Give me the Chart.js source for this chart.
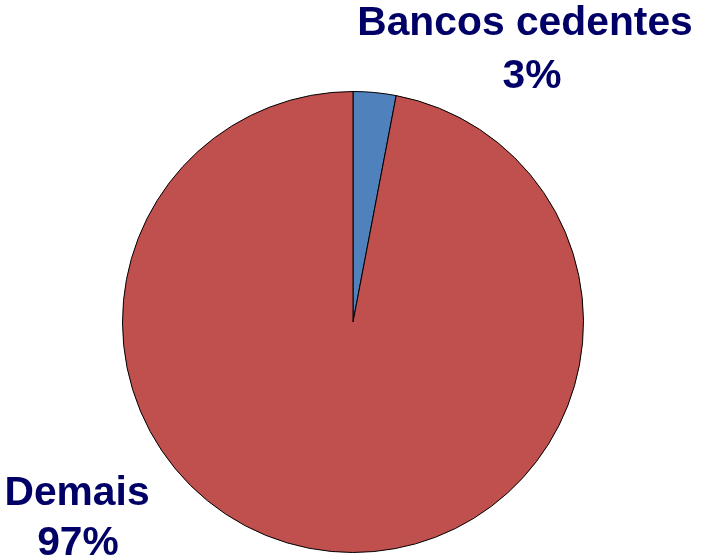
<!DOCTYPE html>
<html>
<head>
<meta charset="utf-8">
<script src="https://cdn.jsdelivr.net/npm/chart.js@4/dist/chart.umd.min.js"></script>
<style>
body { margin: 0; background: #fff; }
</style>
</head>
<body>
<canvas id="piechart" width="702" height="560"></canvas>
<script>
var categories = ['Bancos cedentes', 'Demais'];
var shares = [3, 97];
var shareLabels = ['3%', '97%'];
var sliceColors = ['#4F81BD', '#C0504D'];

// labels sit outside the pie
var labelPlugin = {
	id: 'outsideLabels',
	afterDraw: function(chart) {
		var ctx = chart.ctx;
		var spots = [
			{ x1: 525, y1: 35, x2: 532, y2: 88 },
			{ x1: 77, y1: 505, x2: 78, y2: 555 }
		];
		ctx.save();
		ctx.fillStyle = '#000066';
		ctx.font = 'bold 40px "Liberation Sans", Arial, sans-serif';
		ctx.textAlign = 'center';
		ctx.textBaseline = 'alphabetic';
		for (var i = 0; i < categories.length; i++) {
			var s = spots[i];
			ctx.save();
			ctx.translate(s.x1, s.y1);
			ctx.scale(1.02, 1);
			ctx.fillText(categories[i], 0, 0);
			ctx.restore();
			ctx.save();
			ctx.translate(s.x2, s.y2);
			ctx.scale(1.02, 1);
			ctx.fillText(shareLabels[i], 0, 0);
			ctx.restore();
		}
		ctx.restore();
	}
};

var pie = new Chart(document.getElementById('piechart'), {
	type: 'pie',
	data: {
		labels: categories,
		datasets: [{
			data: shares,
			backgroundColor: sliceColors,
			borderColor: '#000000',
			borderWidth: 1
		}]
	},
	options: {
		responsive: false,
		animation: false,
		layout: { padding: { top: 91, bottom: 7, left: 122, right: 118 } },
		plugins: {
			legend: { display: false },
			tooltip: { enabled: false }
		}
	},
	plugins: [labelPlugin]
});
</script>
</body>
</html>
